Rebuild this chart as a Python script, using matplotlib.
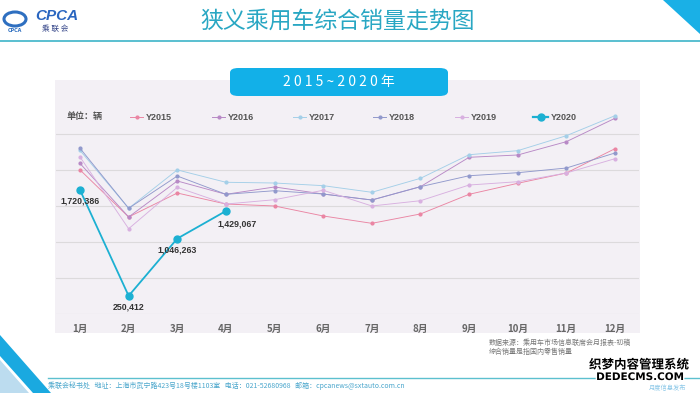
import matplotlib
matplotlib.use("Agg")
import matplotlib.pyplot as plt
from matplotlib.patches import Polygon, FancyBboxPatch, Rectangle, Ellipse
from matplotlib.lines import Line2D
import matplotlib.patheffects as pe

plt.rcParams['font.family'] = ['Noto Sans CJK SC', 'DejaVu Sans']

# ---------------- data ----------------
months = ['1月', '2月', '3月', '4月', '5月', '6月', '7月', '8月', '9月', '10月', '11月', '12月']
y2015 = [2000000, 1346000, 1679000, 1526000, 1499000, 1360000, 1258000, 1388000, 1661000, 1814000, 1957000, 2295000]
y2016 = [2090000, 1346000, 1846000, 1661000, 1763000, 1665000, 1582000, 1767000, 2175000, 2207000, 2392000, 2717000]
y2017 = [2270000, 1467000, 2000000, 1828000, 1818000, 1781000, 1689000, 1883000, 2211000, 2267000, 2475000, 2753000]
y2018 = [2300000, 1467000, 1915000, 1661000, 1711000, 1665000, 1582000, 1767000, 1919000, 1961000, 2026000, 2235000]
y2019 = [2180000, 1183000, 1758000, 1526000, 1586000, 1717000, 1499000, 1572000, 1790000, 1836000, 1957000, 2156000]
y2020 = [1720386, 250412, 1046263, 1429067]
series_names = ['Y2015', 'Y2016', 'Y2017', 'Y2018', 'Y2019', 'Y2020']
series_vals = [y2015, y2016, y2017, y2018, y2019, y2020]
colors = ['#ea85a3', '#b889c6', '#a4cfe8', '#9199cc', '#d8b0e0', '#1cb0d2']
title = '狭义乘用车综合销量走势图'
subtitle = '2 0 1 5 ~ 2 0 2 0 年'
unit_label = '单位：辆'
source_lines = ['数据来源：乘用车市场信息联席会月报表-初稿', '综合销量是指国内零售销量']
footer = '乘联会秘书处   地址：上海市武宁路423号18号楼1103室   电话：021-52680968   邮箱：cpcanews@sxtauto.com.cn'

W, H = 700, 393
fig = plt.figure(figsize=(W / 100, H / 100), dpi=100)
fig.patch.set_facecolor('white')


def P(x, y):
    return (x / W, 1 - y / H)


def poly(pts, color, z=-1):
    fig.patches.append(Polygon([P(x, y) for x, y in pts], closed=True, transform=fig.transFigure,
                               facecolor=color, edgecolor='none', zorder=z))


# header
poly([(663, 0), (700, 0), (700, 34)], '#1ab0e6')
fig.add_artist(Line2D([0, 1], [P(0, 41)[1]] * 2, color='#3db4c8', lw=1.2))
fig.text(*P(338, 21), title, ha='center', va='center', fontsize=16.5, color='#29a7c3')

# logo
fig.patches.append(Ellipse(P(15, 19), 22 / W, 14 / H, transform=fig.transFigure, facecolor='none',
                           edgecolor='#2e6fc0', lw=2.2, angle=0))
fig.text(*P(15, 31), 'CPCA', ha='center', va='center', fontsize=3.5, color='#2e6fc0', fontweight='bold',
         family=['DejaVu Sans'])
fig.text(*P(57, 16), 'CPCA', ha='center', va='center', fontsize=11, color='#2a66c0', fontweight='bold',
         style='italic', family=['Liberation Sans'])
fig.text(*P(55, 29), '乘 联 会', ha='center', va='center', fontsize=5.5, color='#334488')

# panel (behind the axes)
fig.patches.append(Rectangle(P(55, 333), 585 / W, 253 / H, transform=fig.transFigure,
                             facecolor='#f3f0f5', edgecolor='none', zorder=-2))
# subtitle box
fig.patches.append(FancyBboxPatch(P(230, 96), 218 / W, 28 / H, transform=fig.transFigure,
                                  boxstyle='round,pad=0,rounding_size=0.012',
                                  facecolor='#12b0e8', edgecolor='none', zorder=1))
fig.text(*P(339, 82), subtitle, ha='center', va='center', fontsize=10, color='white', zorder=2)

# axes
ax = fig.add_axes([55.7 / W, 1 - 313.9 / H, (639.3 - 55.7) / W, (313.9 - 97.9) / H])
ax.set_facecolor('none')
x = list(range(1, 13))
for name, vals, c in zip(series_names[:5], series_vals[:5], colors[:5]):
    ax.plot(x[:len(vals)], vals, color=c, lw=0.65, marker='o', ms=2.0, zorder=3)
ax.plot(x[:len(y2020)], y2020, color=colors[5], lw=1.3, marker='o', ms=5, zorder=4)

offsets = [(0, -11), (0, -11), (0, -11), (11, -12.5)]
for xi, v, off in zip(x, y2020, offsets):
    ax.annotate(f'{v:,}', (xi, v), xytext=off, textcoords='offset pixels', ha='center', va='center',
                fontsize=6.3, color='#333333', fontweight='bold', family=['Liberation Sans'], zorder=5)

ax.set_xlim(0.5, 12.5)
ax.set_ylim(0, 3000000)
ax.set_yticks([0, 500000, 1000000, 1500000, 2000000, 2500000])
ax.set_yticklabels([])
ax.set_xticks(x)
ax.set_xticklabels(months, fontsize=7, color='#666666', fontweight='bold')
ax.tick_params(axis='both', length=0)
ax.tick_params(axis='x', pad=7)
ax.grid(axis='y', color='#dcdadc', lw=0.8)
ax.set_axisbelow(True)
for s in ax.spines.values():
    s.set_visible(False)

# legend row
fig.text(*P(67, 117), unit_label, ha='left', va='center', fontsize=6.5, color='#555555', fontweight='bold')
leg_x = [130, 212, 293, 373, 455, 533]
for i, (name, c, lx) in enumerate(zip(series_names, colors, leg_x)):
    big = (i == 5)
    ln = 15 if big else 13
    fig.add_artist(Line2D([P(lx, 0)[0], P(lx + ln, 0)[0]], [P(0, 117)[1]] * 2, color=c,
                          lw=1.6 if big else 0.7))
    fig.add_artist(Line2D([P(lx + ln / 2, 0)[0]], [P(0, 117)[1]], color=c, marker='o',
                          ms=5 if big else 2.0, lw=0))
    fig.text(*P(lx + ln + 2.5, 117), name, ha='left', va='center', fontsize=6.5, color='#555555',
             fontweight='bold', family=['Liberation Sans'])

# source note
fig.text(*P(489, 343), source_lines[0], ha='left', va='center', fontsize=5, color='#777777')
fig.text(*P(489, 352), source_lines[1], ha='left', va='center', fontsize=5, color='#777777')

# footer
poly([(0, 335), (51, 393), (33, 393), (0, 356)], '#1aa9e0')
poly([(0, 360), (29, 393), (0, 393)], '#bcdcef')
fig.add_artist(Line2D([P(48, 0)[0], 1], [P(0, 378)[1]] * 2, color='#5cc0cf', lw=1.0))
fig.text(*P(48, 385.5), footer, ha='left', va='center', fontsize=5, color='#4aa6cc')
fig.text(*P(686, 388), '月度信息发布', ha='right', va='center', fontsize=4.5, color='#8cc8e8')

# watermark
wm = [pe.withStroke(linewidth=2, foreground='white')]
fig.text(*P(639, 365), '织梦内容管理系统', ha='center', va='center', fontsize=9, color='black',
         fontweight='bold', path_effects=wm)
fig.text(*P(640, 377), 'DEDECMS.COM', ha='center', va='center', fontsize=7.5, color='black',
         fontweight='bold', family=['DejaVu Sans'], path_effects=wm)

fig.savefig('out.png', dpi=100, facecolor='white')
